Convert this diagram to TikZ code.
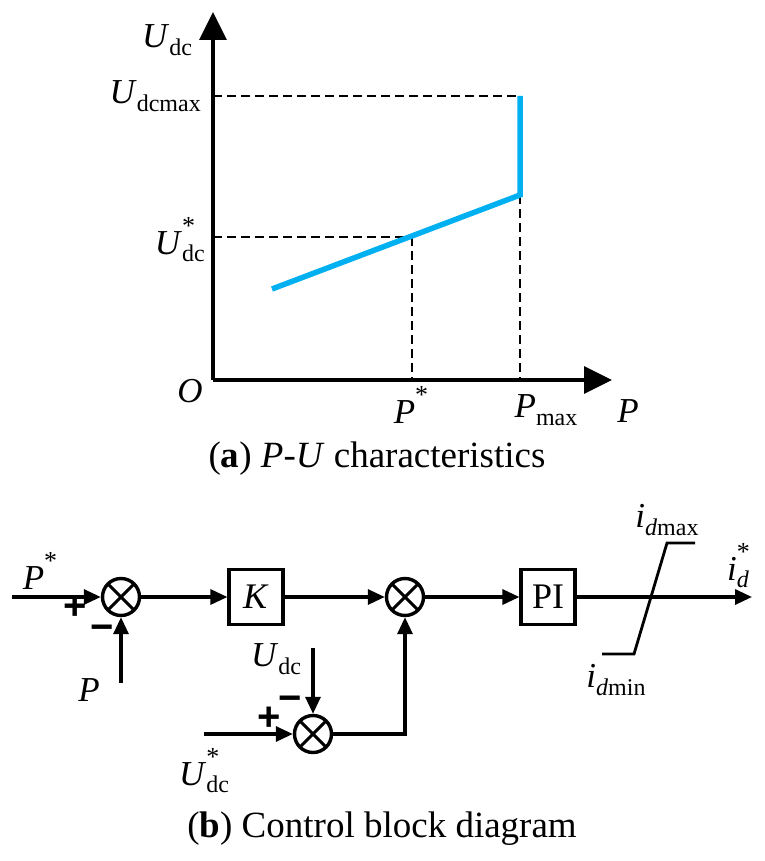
\documentclass[tikz,border=0pt]{standalone}
\usepackage{fontspec}
\setmainfont{Liberation Serif}
\newfontfamily\signfont{Liberation Sans}
\usetikzlibrary{arrows.meta}
\definecolor{cyanline}{RGB}{0,176,240}
\newcommand{\Sb}[1]{\raisebox{-0.22em}{\fontsize{24}{24}\selectfont #1}}
\newcommand{\Sbst}[1]{\makebox[0pt][l]{\raisebox{0.55em}{\fontsize{26}{26}\selectfont *}}\raisebox{-0.22em}{\fontsize{24}{24}\selectfont #1}}
\newcommand{\Stt}{\raisebox{0.55em}{\fontsize{26}{26}\selectfont *}}
\begin{document}
\begin{tikzpicture}[x=1pt,y=-1pt,
  lbl/.style={inner sep=0pt,font=\fontsize{35}{40}\selectfont},
  sgn/.style={inner sep=0pt,font=\fontsize{40}{40}\selectfont\signfont\bfseries},
  captext/.style={inner sep=0pt,anchor=base,font=\fontsize{37}{42}\selectfont},
  conn/.style={line width=3.2pt},
  arr/.style={-{Triangle[length=17pt,width=15pt]}},
  axisln/.style={line width=3.2pt,-{Triangle[length=28pt,width=27pt]}},
  dashln/.style={line width=2.5pt,dash pattern=on 9pt off 5pt},
  sumnode/.style={circle,draw,line width=3.4pt,minimum size=37pt,inner sep=0pt,
    path picture={\draw[line width=3pt] (path picture bounding box.north west)--(path picture bounding box.south east)
      (path picture bounding box.north east)--(path picture bounding box.south west);}},
  blocknode/.style={draw,line width=3.2pt,minimum width=54pt,minimum height=55pt,inner sep=0pt,font=\fontsize{36}{40}\selectfont}
]
\useasboundingbox (0,0) rectangle (764,861);
% ---------- (a) ----------
\coordinate (O) at (213,380);
\coordinate (ytip) at (213,12);
\coordinate (xtip) at (612,380);
\coordinate (ymax) at (213,96);
\coordinate (ystar) at (213,237);
\coordinate (A) at (272,289);
\coordinate (B) at (412,237);
\coordinate (C) at (520,195);
\coordinate (D) at (520,96);
\coordinate (Bx) at (412,380);
\coordinate (Cx) at (520,380);
\draw[dashln] (ymax) -- (D);
\draw[dashln] (ystar) -- (B);
\draw[dashln] (B) -- (Bx);
\draw[dashln] (C) -- (Cx);
\draw[axisln] (O) -- (ytip);
\draw[axisln] (O) -- (xtip);
\draw[cyanline,line width=5.5pt] (A) -- (C) -- (D);
\node[lbl] (lUdc) at (167,40) {\textit{U}\Sb{dc}};
\node[lbl,anchor=east] (lUmax) at (201,96) {\textit{U}\Sb{dcmax}};
\node[lbl,anchor=east] (lUst) at (205,240) {\textit{U}\Sbst{dc}\hspace{4pt}};
\node[lbl] (lO) at (190,391) {\textit{O}};
\node[lbl] (lPst) at (411,405) {\textit{P}\Stt};
\node[lbl] (lPmax) at (546,410) {\textit{P}\Sb{max}};
\node[lbl] (lP) at (628,411) {\textit{P}};
\node[captext] (capa) at (377,467) {(\textbf{a}) \textit{P}-\textit{U} characteristics};
% ---------- (b) ----------
\node[sumnode] (s1) at (121,597) {};
\node[blocknode] (K) at (256,597) {\textit{K}};
\node[sumnode] (s2) at (405,597) {};
\node[blocknode] (PI) at (548,597) {PI};
\node[sumnode] (s3) at (313,734) {};
\coordinate (pin) at (12,597);
\coordinate (pm) at (121,683);
\coordinate (out) at (752,597);
\coordinate (udcin) at (313,648);
\coordinate (ustar) at (204,734);
\draw[conn,arr] (pin) -- (s1);
\draw[conn,arr] (pm) -- (s1);
\draw[conn,arr] (s1) -- (K);
\draw[conn,arr] (K) -- (s2);
\draw[conn,arr] (s2) -- (PI);
\draw[conn,arr] (PI) -- (out);
\draw[conn,arr] (udcin) -- (s3);
\draw[conn,arr] (ustar) -- (s3);
\draw[conn,arr] (s3) -| (s2);
\coordinate (sat1) at (602,654);
\coordinate (sat2) at (634,654);
\coordinate (sat3) at (667,543);
\coordinate (sat4) at (695,543);
\draw[line width=2.8pt] (sat1) -- (sat2) -- (sat3) -- (sat4);
\node[lbl] (lPs) at (40,571) {\textit{P}\Stt};
\node[sgn] (p1) at (75,608) {+};
\node[sgn] (m1) at (102,633) {−};
\node[lbl] (lPm) at (89,690) {\textit{P}};
\node[lbl] (lUdc2) at (276,659) {\textit{U}\Sb{dc}};
\node[sgn] (m3) at (290,704) {−};
\node[sgn] (p3) at (269,719) {+};
\node[lbl] (lUs2) at (204,771) {\textit{U}\Sbst{dc}\hspace{20pt}};
\node[lbl] (lidmax) at (667,520) {\textit{i}\Sb{\textit{d}max}};
\node[lbl] (lidmin) at (616,680) {\textit{i}\Sb{\textit{d}min}};
\node[lbl] (lid) at (738,566) {\textit{i}\Sbst{\textit{d}}\hspace{8pt}};
\node[captext] (capb) at (382,837) {(\textbf{b}) Control block diagram};
\end{tikzpicture}
\end{document}
